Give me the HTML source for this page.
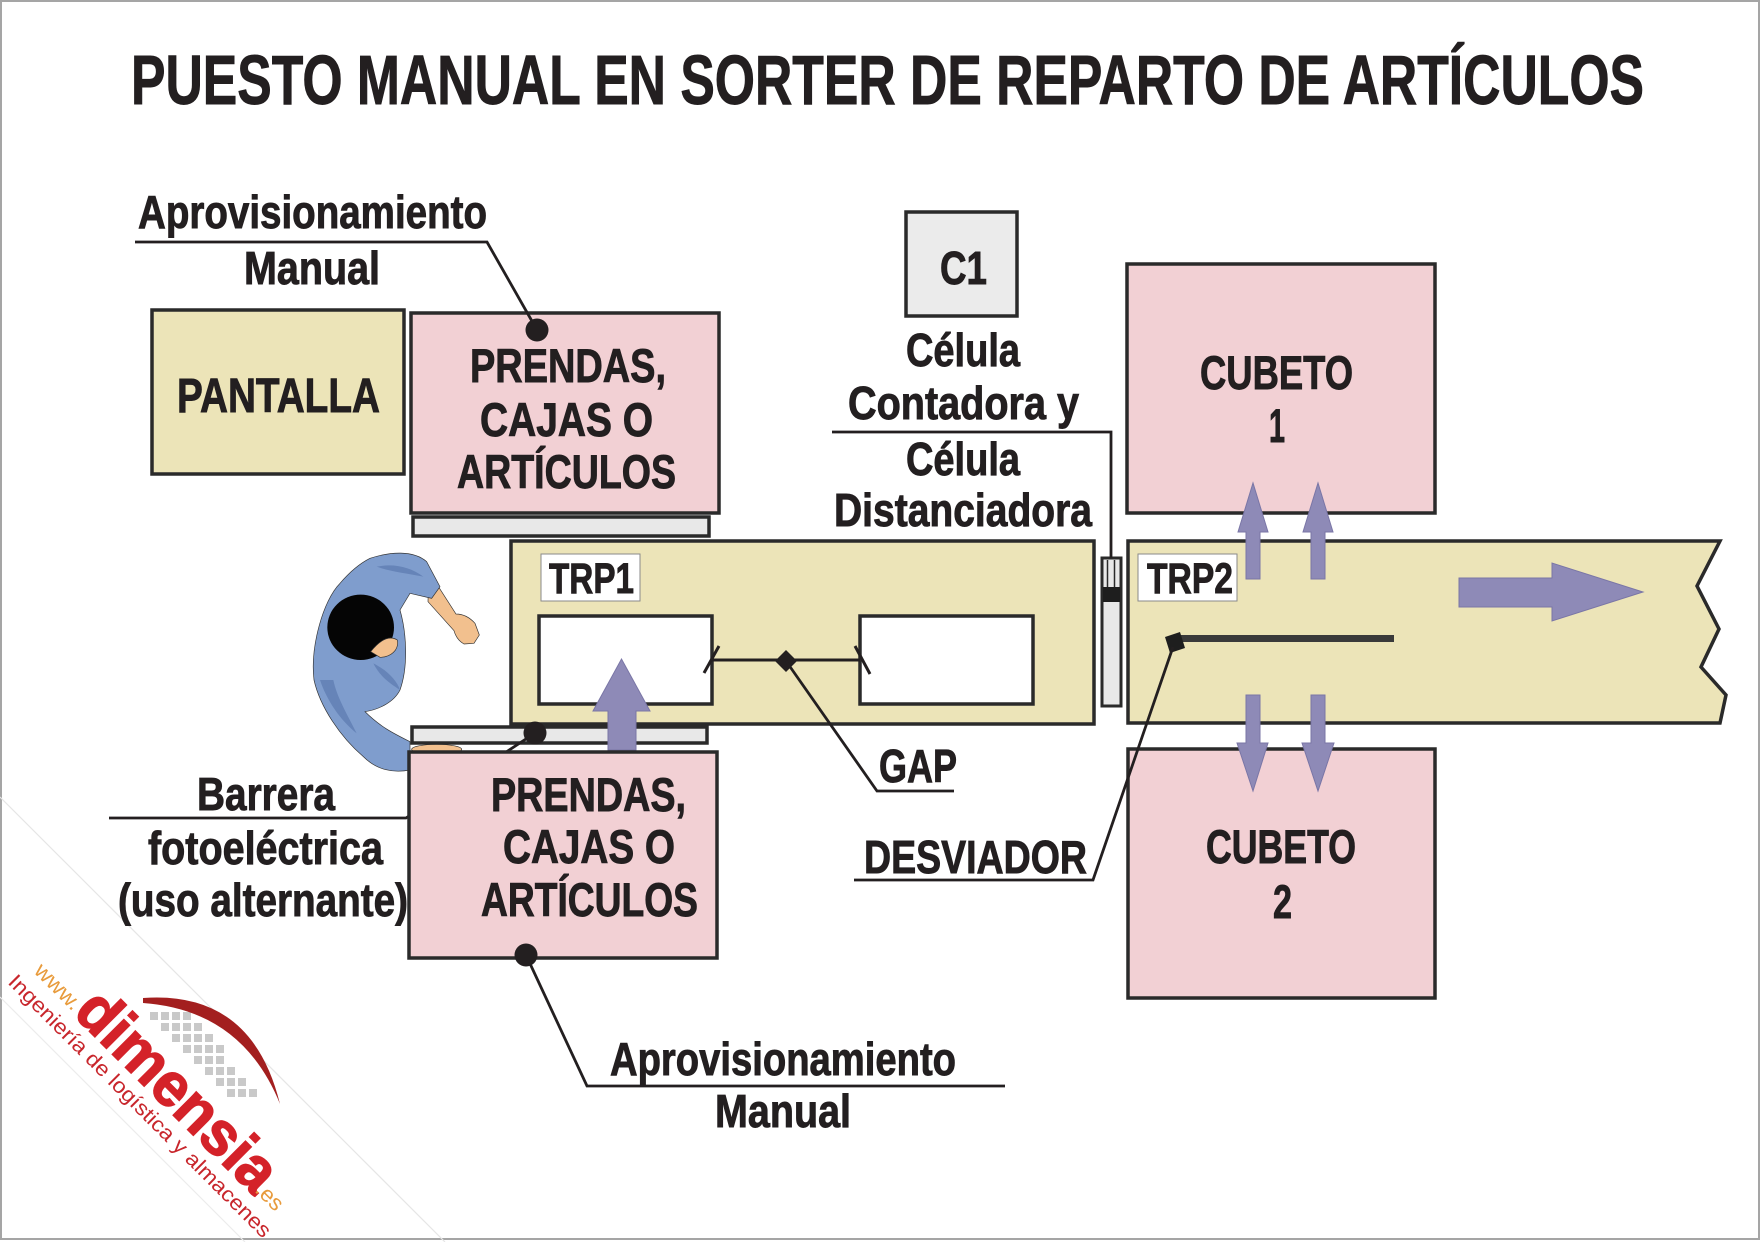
<!DOCTYPE html>
<html><head><meta charset="utf-8">
<style>
html,body{margin:0;padding:0;background:#fff;}
svg{display:block;}
.t{font-family:"Liberation Sans Narrow","Liberation Sans",sans-serif;font-weight:bold;fill:#231f20;stroke:#231f20;stroke-width:0.9;}
.lg{font-family:"Liberation Sans",sans-serif;}
</style></head><body>
<svg width="1762" height="1242" viewBox="0 0 1762 1242" xmlns="http://www.w3.org/2000/svg">
<rect width="1762" height="1242" fill="#fff"/>
<rect x="1" y="1" width="1758" height="1238" fill="none" stroke="#a5a5a5" stroke-width="2"/>

<!-- logo band -->
<line x1="0" y1="797" x2="445" y2="1242" stroke="#e6e6e6" stroke-width="1.2"/>
<line x1="0" y1="997" x2="245" y2="1242" stroke="#ececec" stroke-width="1.2"/>

<!-- logo -->
<g fill="#c9c9c9">
<rect x="150" y="1012" width="8" height="8"/>
<rect x="161" y="1012" width="8" height="8"/><rect x="161" y="1023" width="8" height="8"/>
<rect x="172" y="1012" width="8" height="8"/><rect x="172" y="1023" width="8" height="8"/><rect x="172" y="1034" width="8" height="8"/>
<rect x="183" y="1023" width="8" height="8"/><rect x="183" y="1034" width="8" height="8"/><rect x="183" y="1045" width="8" height="8"/><rect x="183" y="1012" width="8" height="8"/>
<rect x="194" y="1034" width="8" height="8"/><rect x="194" y="1045" width="8" height="8"/><rect x="194" y="1056" width="8" height="8"/><rect x="194" y="1023" width="8" height="8"/>
<rect x="205" y="1045" width="8" height="8"/><rect x="205" y="1056" width="8" height="8"/><rect x="205" y="1067" width="8" height="8"/><rect x="205" y="1034" width="8" height="8"/>
<rect x="216" y="1056" width="8" height="8"/><rect x="216" y="1067" width="8" height="8"/><rect x="216" y="1078" width="8" height="8"/><rect x="216" y="1045" width="8" height="8"/>
<rect x="227" y="1067" width="8" height="8"/><rect x="227" y="1078" width="8" height="8"/><rect x="227" y="1089" width="8" height="8"/>
<rect x="238" y="1078" width="8" height="8"/><rect x="238" y="1089" width="8" height="8"/>
<rect x="249" y="1089" width="8" height="8"/>
</g>
<path d="M143,998 Q252,990 280,1104 Q242,1010 143,1003 Z" fill="#a31f1f"/>
<text class="lg" transform="translate(33,972) rotate(45)" font-size="22" fill="#e89b3c" textLength="56" lengthAdjust="spacingAndGlyphs">www.</text>
<text class="lg" transform="translate(72,1014) rotate(45)" font-size="62" font-weight="bold" fill="#d42229" stroke="#d42229" stroke-width="1.5" textLength="258" lengthAdjust="spacingAndGlyphs">dimensia</text>
<text class="lg" transform="translate(254,1191) rotate(45)" font-size="22" fill="#e89b3c" textLength="30" lengthAdjust="spacingAndGlyphs">.es</text>
<text class="lg" transform="translate(7,983) rotate(45)" font-size="21" fill="#c8262c" textLength="362" lengthAdjust="spacingAndGlyphs">Ingeniería de logística y almacenes</text>

<!-- title -->
<text class="t" x="131" y="104" font-size="70" stroke-width="1.6" textLength="1513" lengthAdjust="spacingAndGlyphs">PUESTO MANUAL EN SORTER DE REPARTO DE ARTÍCULOS</text>

<g stroke="#2a2a2a" stroke-width="3.5">
<rect x="152" y="310" width="252" height="164" fill="#ece4b8"/>
<rect x="411" y="313" width="308" height="200" fill="#f2d0d4"/>
<rect x="413" y="517" width="296" height="19" fill="#e8e8e8"/>
<rect x="906" y="212" width="111" height="104" fill="#ebebeb"/>
<rect x="1127" y="264" width="308" height="249" fill="#f2d0d4"/>
<rect x="1128" y="749" width="307" height="249" fill="#f2d0d4"/>
<rect x="511" y="541" width="583" height="183" fill="#ece4b8"/>
<polygon points="1128,541 1720,541 1697,586 1719,629 1701,667 1726,695 1720,723 1128,723" fill="#ece4b8"/>
<rect x="539" y="616" width="173" height="88" fill="#fff"/>
<rect x="860" y="616" width="173" height="88" fill="#fff"/>
<rect x="1102" y="558" width="19" height="148" fill="#e8e8e8" stroke-width="3"/>
</g>
<g stroke="#2a2a2a" stroke-width="1.5">
<line x1="1107.5" y1="560" x2="1107.5" y2="588"/>
<line x1="1114.5" y1="560" x2="1114.5" y2="588"/>
</g>
<rect x="1103" y="587" width="17" height="15" fill="#1e1e1e"/>

<rect x="541" y="554" width="99" height="47" fill="#fff" stroke="#8a8a8a" stroke-width="1"/>
<rect x="1138" y="554" width="99" height="47" fill="#fff" stroke="#8a8a8a" stroke-width="1"/>

<!-- person -->
<g transform="translate(300,540) scale(0.33333)">
<ellipse cx="410" cy="628" rx="75" ry="15" fill="#f2c08e" stroke="#333" stroke-width="2"/>
<path d="M385,150 L412,135 L468,222 Q500,222 525,250 L538,285 L522,310 L492,312 Q470,300 462,272 L384,185 Z" fill="#f2c08e" stroke="#333" stroke-width="2"/>
<path d="M210,55 C270,35 340,30 380,65 L420,140 L395,175 L330,160 L300,210 C320,280 325,380 300,450 C280,490 230,510 195,515 C240,560 280,580 330,605 L330,690 C280,700 230,690 190,650 C120,590 60,500 42,420 C30,320 70,180 120,130 C150,95 180,70 210,55 Z" fill="#7f9dcd" stroke="#333" stroke-width="2"/>
<path d="M60,420 C80,480 120,540 170,580 C140,520 110,470 100,420 Z" fill="#6684b8"/>
<path d="M220,370 C260,390 290,420 300,450 C270,430 240,410 220,370 Z" fill="#6684b8"/>
<path d="M230,80 C280,70 330,80 370,110 C320,100 270,95 230,80 Z" fill="#6684b8"/>
<ellipse cx="182" cy="262" rx="100" ry="98" fill="#050505"/>
<path d="M212,335 C240,300 268,285 292,300 C298,330 272,352 240,352 Z" fill="#f2c08e" stroke="#333" stroke-width="2"/>
</g>

<rect x="412" y="727" width="295" height="16" fill="#e8e8e8" stroke="#2a2a2a" stroke-width="3.5"/>

<path d="M109,818 H406 L535,733" fill="none" stroke="#231f20" stroke-width="2.8"/>

<path d="M608,750 V711 H593 L621.5,659 L650,711 H636 V750 Z" fill="#8e8ab7" stroke="#7a76a6" stroke-width="1"/>

<rect x="409" y="752" width="308" height="206" fill="#f2d0d4" stroke="#2a2a2a" stroke-width="3.5"/>

<g fill="#8e8ab7" stroke="#7a76a6" stroke-width="1">
<path d="M1246,579 V532 H1238 L1253,483 L1268,532 H1260 V579 Z"/>
<path d="M1311,579 V532 H1303 L1318,483 L1333,532 H1325 V579 Z"/>
<path d="M1246,695 V743 H1237 L1253,791 L1268,743 H1260 V695 Z"/>
<path d="M1311,695 V743 H1302 L1318,791 L1334,743 H1325 V695 Z"/>
<path d="M1459,578 H1552 V563 L1643,592 L1552,621 V607 H1459 Z"/>
</g>

<line x1="1178" y1="638.5" x2="1394" y2="638.5" stroke="#3a3a3a" stroke-width="7"/>
<polygon points="1165,637 1180,632 1185,648 1170,653" fill="#1e1e1e"/>

<g stroke="#231f20" stroke-width="3" fill="none">
<line x1="712" y1="660" x2="860" y2="660"/>
<line x1="704" y1="673" x2="719" y2="646"/>
<line x1="855" y1="646" x2="870" y2="674"/>
</g>
<polygon points="786,650 797,661 786,672 775,661" fill="#231f20"/>

<g stroke="#231f20" stroke-width="2.8" fill="none">
<path d="M135,242 H487 L537,330"/>
<path d="M832,432 H1111 V558"/>
<path d="M786,661 L877,791 H954"/>
<path d="M854,880 H1093 L1173,647"/>
<path d="M526,955 L587,1086 H1005"/>
</g>
<g fill="#231f20">
<circle cx="537" cy="330" r="11.5"/>
<circle cx="535" cy="733" r="11.5"/>
<circle cx="526" cy="955" r="11.5"/>
</g>

<g class="t" font-size="46">
<text x="138" y="228" textLength="349" lengthAdjust="spacingAndGlyphs">Aprovisionamiento</text>
<text x="244" y="284" textLength="136" lengthAdjust="spacingAndGlyphs">Manual</text>
<text x="177" y="412" font-size="48" textLength="203" lengthAdjust="spacingAndGlyphs">PANTALLA</text>
<text x="470" y="382" font-size="47" textLength="196" lengthAdjust="spacingAndGlyphs">PRENDAS,</text>
<text x="480" y="436" font-size="47" textLength="173" lengthAdjust="spacingAndGlyphs">CAJAS O</text>
<text x="457" y="488" font-size="47" textLength="219" lengthAdjust="spacingAndGlyphs">ARTÍCULOS</text>
<text x="940" y="284" textLength="47" lengthAdjust="spacingAndGlyphs">C1</text>
<text x="906" y="366" textLength="114" lengthAdjust="spacingAndGlyphs">Célula</text>
<text x="848" y="419" textLength="231" lengthAdjust="spacingAndGlyphs">Contadora y</text>
<text x="906" y="475" textLength="114" lengthAdjust="spacingAndGlyphs">Célula</text>
<text x="834" y="526" textLength="258" lengthAdjust="spacingAndGlyphs">Distanciadora</text>
<text x="1200" y="389" font-size="47" textLength="153" lengthAdjust="spacingAndGlyphs">CUBETO</text>
<text x="1269" y="442" font-size="47" textLength="16" lengthAdjust="spacingAndGlyphs">1</text>
<text x="1206" y="863" font-size="47" textLength="150" lengthAdjust="spacingAndGlyphs">CUBETO</text>
<text x="1273" y="918" font-size="47" textLength="19" lengthAdjust="spacingAndGlyphs">2</text>
<text x="549" y="593" font-size="43" textLength="85" lengthAdjust="spacingAndGlyphs">TRP1</text>
<text x="1147" y="593" font-size="43" textLength="86" lengthAdjust="spacingAndGlyphs">TRP2</text>
<text x="879" y="782" textLength="78" lengthAdjust="spacingAndGlyphs">GAP</text>
<text x="864" y="873" textLength="223" lengthAdjust="spacingAndGlyphs">DESVIADOR</text>
<text x="197" y="810" textLength="138" lengthAdjust="spacingAndGlyphs">Barrera</text>
<text x="148" y="864" textLength="235" lengthAdjust="spacingAndGlyphs">fotoeléctrica</text>
<text x="118" y="916" textLength="290" lengthAdjust="spacingAndGlyphs">(uso alternante)</text>
<text x="491" y="811" font-size="47" textLength="195" lengthAdjust="spacingAndGlyphs">PRENDAS,</text>
<text x="503" y="863" font-size="47" textLength="172" lengthAdjust="spacingAndGlyphs">CAJAS O</text>
<text x="481" y="916" font-size="47" textLength="217" lengthAdjust="spacingAndGlyphs">ARTÍCULOS</text>
<text x="610" y="1075" textLength="346" lengthAdjust="spacingAndGlyphs">Aprovisionamiento</text>
<text x="715" y="1127" textLength="136" lengthAdjust="spacingAndGlyphs">Manual</text>
</g>
</svg>
</body></html>
